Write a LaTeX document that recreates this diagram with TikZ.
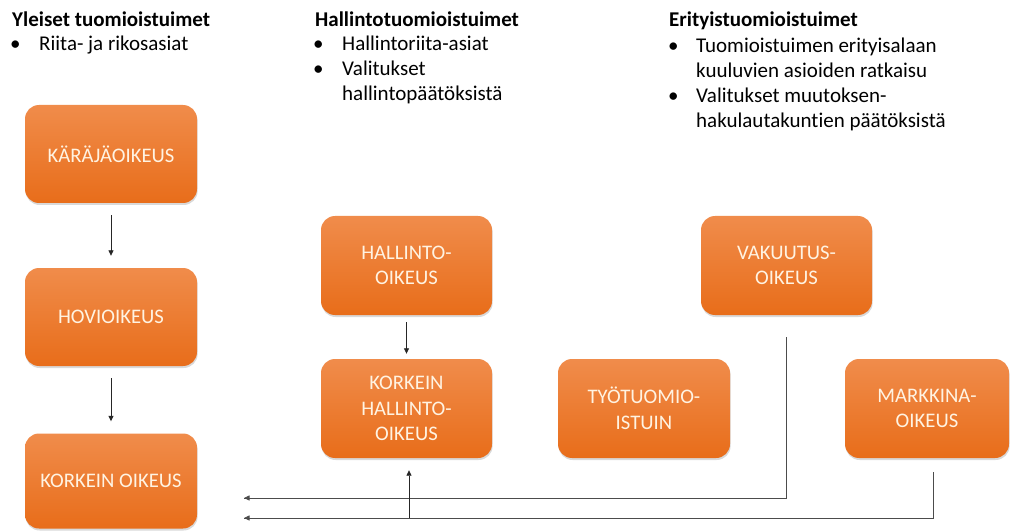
\documentclass[tikz,border=0pt]{standalone}
\usepackage{fontspec}
\setmainfont{Carlito}[Ligatures=NoCommon]
\usetikzlibrary{arrows.meta,shadows}
\definecolor{otop}{HTML}{F08C4B}
\definecolor{obot}{HTML}{E86D1A}
\definecolor{otext}{HTML}{FFF3E2}
\begin{document}
\begin{tikzpicture}[x=1pt,y=-1pt,
  court/.style={rectangle, rounded corners=14pt, top color=otop, bottom color=obot,
    draw=none, minimum width=172pt, minimum height=98pt, text=otext, align=center,
    font=\fontsize{20.7}{25.5}\selectfont,
    drop shadow={shadow xshift=0.6pt, shadow yshift=-2pt, opacity=0.25, fill=black!60}},
  arr/.style={draw=black!85, line width=0.8pt, -{Triangle[length=5.5pt,width=5pt]}},
  conn/.style={draw=black!70, line width=0.8pt},
  hd/.style={anchor=base west, inner sep=0pt, font=\fontsize{21}{25}\selectfont\bfseries},
  tx/.style={anchor=base west, inner sep=0pt, font=\fontsize{21}{25}\selectfont}]
\useasboundingbox (0,0) rectangle (1013,532);

% headers and bullets
\node[hd] (h1) at (12,27) {Yleiset tuomioistuimet};
\node[tx] (b1) at (10,51) {•};
\node[tx] (t1) at (39,51) {Riita- ja rikosasiat};

\node[hd] (h2) at (315,27) {Hallintotuomioistuimet};
\node[tx] (b2a) at (313,51) {•};
\node[tx] (t2a) at (342,51) {Hallintoriita-asiat};
\node[tx] (b2b) at (313,76) {•};
\node[tx] (t2b) at (342,76) {Valitukset};
\node[tx] (t2c) at (342,101) {hallintopäätöksistä};

\node[hd] (h3) at (669,27) {Erityistuomioistuimet};
\node[tx] (b3a) at (668,53) {•};
\node[tx] (t3a) at (696,53) {Tuomioistuimen erityisalaan};
\node[tx] (t3b) at (696,78) {kuuluvien asioiden ratkaisu};
\node[tx] (b3b) at (668,103) {•};
\node[tx] (t3c) at (696,103) {Valitukset muutoksen-};
\node[tx] (t3d) at (696,128) {hakulautakuntien päätöksistä};

% courts
\node[court] (ka) at (111,154) {KÄRÄJÄOIKEUS};
\node[court] (ho) at (111,317) {HOVIOIKEUS};
\node[court, minimum height=95pt] (ko) at (111,481) {KORKEIN OIKEUS};
\node[court, minimum width=171pt, minimum height=99pt] (hal) at (406.5,265.5) {HALLINTO-\\OIKEUS};
\node[court, minimum width=171pt, minimum height=99pt] (kho) at (406.5,408.5) {KORKEIN\\HALLINTO-\\OIKEUS};
\node[court, minimum width=171pt, minimum height=99pt] (vak) at (786.5,265.5) {VAKUUTUS-\\OIKEUS};
\node[court, minimum width=172pt, minimum height=99pt] (tyo) at (644,408.5) {TYÖTUOMIO-\\ISTUIN};
\node[court, minimum width=164pt, minimum height=99pt] (mar) at (927,408.5) {MARKKINA-\\OIKEUS};

% arrows between courts
\draw[arr] ([yshift=-12pt]ka.south) -- ([yshift=12pt]ho.north);
\draw[arr] ([yshift=-12pt]ho.south) -- ([yshift=12pt]ko.north);
\draw[arr] ([yshift=-7pt]hal.south) -- ([yshift=5pt]kho.north);

% appeal lines to Korkein oikeus
\coordinate (vstart) at (786,337);
\coordinate (mstart) at (933,472);
\coordinate (lane1) at (244,498);
\coordinate (lane2) at (244,518);
\coordinate (khoin) at (409,518);
\draw[conn] (vstart) |- (lane1);
\draw[arr, draw=black!70] (786,498) -- (lane1);
\draw[conn] (mstart) |- (lane2);
\draw[arr, draw=black!70] (933,518) -- (lane2);
\draw[arr] (khoin) -- ([yshift=-12pt]kho.south -| khoin);
\end{tikzpicture}
\end{document}
